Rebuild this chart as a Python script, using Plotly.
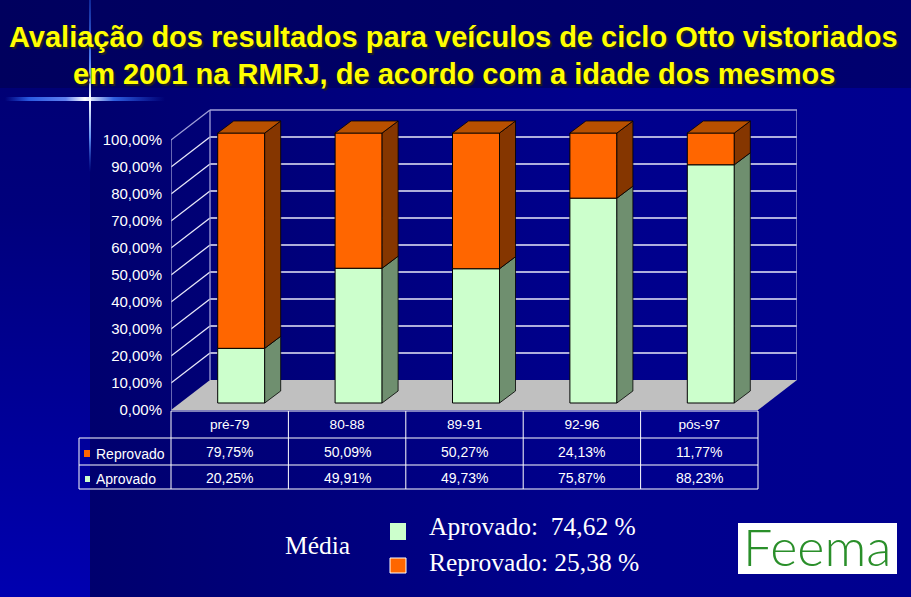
import base64
import plotly.graph_objects as go

W, H = 911, 597
categories = ["pré-79", "80-88", "89-91", "92-96", "pós-97"]
aprovado = [20.25, 49.91, 49.73, 75.87, 88.23]
reprovado = [79.75, 50.09, 50.27, 24.13, 11.77]
y_ticks = [0, 10, 20, 30, 40, 50, 60, 70, 80, 90, 100]
media_aprovado = "74,62"
media_reprovado = "25,38"
C_GREEN, C_ORANGE = "#ccffcc", "#ff6600"

# axis geometry in pixels
PX_L, PX_R = 171, 797
PY_B, PY_T = 410, 108
ux = (758 - 171) / 5          # px per category
uy = 2.70                     # px per percent
x_lo = -0.5
x_hi = x_lo + (PX_R - PX_L) / ux
y_hi = (PY_B - PY_T) / uy
DX, DY = 39 / ux, 30 / uy     # total chart depth in data units
BW = 47 / ux                  # bar width
BOX, BOY = 11.5 / ux, 7 / uy  # bar front offset from chart front
BDX, BDY = 16 / ux, 12 / uy   # bar depth


def px(x):
    return x / W


def py(y):
    return 1 - y / H


# slide background as a single gradient picture
BG_SVG = f"""<svg xmlns="http://www.w3.org/2000/svg" width="{W}" height="{H}" viewBox="0 0 {W} {H}">
<defs>
<linearGradient id="m"><stop offset="0" stop-color="#00006e"/><stop offset="0.6" stop-color="#00008c"/><stop offset="1" stop-color="#000090"/></linearGradient>
<linearGradient id="t"><stop offset="0" stop-color="#00005e"/><stop offset="1" stop-color="#000070"/></linearGradient>
<linearGradient id="l" x1="0" y1="0" x2="0" y2="1"><stop offset="0" stop-color="#000070"/><stop offset="0.35" stop-color="#00007c"/><stop offset="1" stop-color="#0000b0"/></linearGradient>
<linearGradient id="h"><stop offset="0" stop-color="#2050e0" stop-opacity="0"/><stop offset="0.15" stop-color="#2a5ae0"/>
<stop offset="0.38" stop-color="#6080f0"/><stop offset="0.5" stop-color="#ffffff"/><stop offset="0.68" stop-color="#3060e0"/><stop offset="1" stop-color="#2050e0" stop-opacity="0"/></linearGradient>
<linearGradient id="v" x1="0" y1="0" x2="0" y2="1"><stop offset="0" stop-color="#2050d0" stop-opacity="0.5"/><stop offset="0.35" stop-color="#5080f0"/>
<stop offset="0.58" stop-color="#ffffff"/><stop offset="0.8" stop-color="#6090f0"/><stop offset="1" stop-color="#2050d0" stop-opacity="0"/></linearGradient>
</defs>
<rect x="90" width="{W - 90}" height="{H}" fill="url(#m)"/>
<rect width="90" height="{H}" fill="url(#l)"/>
<rect width="{W}" height="88" fill="url(#t)"/>
<rect x="5" y="97" width="160" height="4" fill="url(#h)"/>
<rect x="89" y="0" width="2" height="172" fill="url(#v)"/>
</svg>"""
BG_URI = "data:image/svg+xml;base64," + base64.b64encode(BG_SVG.encode()).decode()

fig = go.Figure()
shapes = []
anns = []


def paper_rect(x0, y0, x1, y1, fill, line=None, lw=0, layer="above"):
    shapes.append(dict(type="rect", xref="paper", yref="paper", x0=px(x0), x1=px(x1),
                       y0=py(y1), y1=py(y0), fillcolor=fill, layer=layer,
                       line=dict(color=line or fill, width=lw)))


def data_line(x0, y0, x1, y1, color, w=1.3):
    shapes.append(dict(type="line", xref="x", yref="y", x0=x0, y0=y0, x1=x1, y1=y1,
                       layer="below", line=dict(color=color, width=w)))


# floor
shapes.append(dict(type="path", xref="x", yref="y", layer="below",
                   path=f"M{x_lo},0 L{x_lo + 5},0 L{x_hi},{DY} L{x_lo + DX},{DY} Z",
                   fillcolor="#c0c0c0", line=dict(width=0)))

# walls and gridlines
for v in y_ticks[1:-1]:
    data_line(x_lo, v, x_lo + DX, v + DY, "#e8e8f8")
    data_line(x_lo + DX, v + DY, x_hi, v + DY, "#e8e8f8")
EDGE = "#a0a0d8"
data_line(x_lo, 0, x_lo, 100, EDGE)
data_line(x_lo + DX, DY, x_lo + DX, 100 + DY, EDGE)
data_line(x_hi, DY, x_hi, 100 + DY, EDGE)
data_line(x_lo, 100, x_lo + DX, 100 + DY, EDGE)
data_line(x_lo + DX, 100 + DY, x_hi, 100 + DY, EDGE)

x_pos = list(range(len(categories)))
bar_x = [i + BOX for i in x_pos]

# front faces
fig.add_bar(x=bar_x, y=aprovado, base=[BOY] * 5, width=BW, name="Aprovado",
            marker=dict(color=C_GREEN, line=dict(color="#000000", width=1)))
fig.add_bar(x=bar_x, y=reprovado, base=[BOY + a for a in aprovado], width=BW, name="Reprovado",
            marker=dict(color=C_ORANGE, line=dict(color="#000000", width=1)))


def face(xs, ys, fill, name):
    fig.add_scatter(x=xs, y=ys, mode="lines", fill="toself", fillcolor=fill,
                    line=dict(color="#000000", width=0.8), showlegend=False, name=name, hoverinfo="skip")


# side and top faces
for i, (a, r) in enumerate(zip(aprovado, reprovado)):
    xr = bar_x[i] + BW / 2
    xl = bar_x[i] - BW / 2
    y0, y1, y2 = BOY, BOY + a, BOY + a + r
    face([xr, xr + BDX, xr + BDX, xr, xr], [y0, y0 + BDY, y1 + BDY, y1, y0], "#6f8f6f", "Aprovado lado")
    face([xr, xr + BDX, xr + BDX, xr, xr], [y1, y1 + BDY, y2 + BDY, y2, y1], "#853600", "Reprovado lado")
    face([xl, xr, xr + BDX, xl + BDX, xl], [y2, y2, y2 + BDY, y2 + BDY, y2], "#b85000", "Reprovado topo")


def text(x, y, s, size=14, color="#ffffff", family="Liberation Sans", anchor="center", xref="paper", **kw):
    anns.append(dict(x=px(x) if xref == "paper" else x, y=py(y), xref=xref, yref="paper", text=s, showarrow=False,
                     xanchor=anchor, yanchor="middle",
                     font=dict(size=size, color=color, family=family, **kw)))


# data table
TX0, TX1, TX2 = 79, 171, 758
TY0, TY1, TY2, TY3 = 411, 438, 465, 489
LC = "#ffffff"
tbl = [(TX1, TY0, TX2, TY0), (TX0, TY1, TX2, TY1), (TX0, TY2, TX2, TY2), (TX0, TY3, TX2, TY3), (TX0, TY1, TX0, TY3)]
for i in range(6):
    xp = TX1 + i * ux
    tbl.append((xp, TY0, xp, TY3))
for a, b, c, d in tbl:
    shapes.append(dict(type="line", xref="paper", yref="paper", x0=px(a), x1=px(c), y0=py(b), y1=py(d),
                       line=dict(color=LC, width=1), layer="above"))

for i in x_pos:
    text(i, 452, f"{reprovado[i]:.2f}%".replace(".", ","), xref="x")
    text(i, 478, f"{aprovado[i]:.2f}%".replace(".", ","), xref="x")
text(94, 454, "Reprovado", anchor="left")
text(94, 479, "Aprovado", anchor="left")
paper_rect(84, 450, 90, 457, C_ORANGE)
paper_rect(85, 476, 90, 482, C_GREEN)

# title
SH = "2px 2px 1px #202020"
text(453, 37, "Avaliação dos resultados para veículos de ciclo Otto vistoriados", size=29, color="#ffff00",
     shadow=SH, weight="bold")
text(454, 74, "em 2001 na RMRJ, de acordo com a idade dos mesmos", size=29, color="#ffff00",
     shadow=SH, weight="bold")

# average block
SERIF = "Liberation Serif"
text(283, 545, "Média", size=25.5, family=SERIF, anchor="left")
text(427, 526, f"Aprovado:  {media_aprovado} %", size=25.5, family=SERIF, anchor="left")
text(427, 562, f"Reprovado: {media_reprovado} %", size=25.5, family=SERIF, anchor="left")
paper_rect(390, 523, 406, 540, C_GREEN)
paper_rect(390, 558, 406, 573, C_ORANGE, line="#ffffff", lw=1)

# logo
paper_rect(738, 523, 897, 574, "#ffffff")
text(817, 546, "Feema", size=52, color="#2a8f2a", family="Lato", weight=300)

fig.update_layout(
    width=W, height=H, autosize=False,
    margin=dict(l=0, r=0, t=0, b=0, autoexpand=False),
    paper_bgcolor="#000090", plot_bgcolor="rgba(0,0,0,0)",
    barmode="overlay", showlegend=False, shapes=shapes, annotations=anns,
    images=[dict(source=BG_URI, xref="paper", yref="paper", x=0, y=1, sizex=1, sizey=1,
                 sizing="stretch", xanchor="left", yanchor="top", layer="below")],
    xaxis=dict(domain=[px(PX_L), px(PX_R)], range=[x_lo, x_hi], tickvals=x_pos, ticktext=categories,
               automargin=False, showgrid=False, zeroline=False, showline=False, ticks="outside", ticklen=2,
               tickcolor="rgba(0,0,0,0)", tickfont=dict(size=13.7, color="#ffffff", family="Liberation Sans")),
    yaxis=dict(domain=[py(PY_B), py(PY_T)], range=[0, y_hi], tickvals=y_ticks,
               ticktext=[f"{v},00%" for v in y_ticks],
               automargin=False, showgrid=False, zeroline=False, showline=False, ticks="outside", ticklen=5,
               tickcolor="rgba(0,0,0,0)", tickfont=dict(size=15, color="#ffffff", family="Liberation Sans")),
)
fig.write_html("out.html", config={"displayModeBar": False},
               post_script="document.body.style.margin='0';document.documentElement.style.overflow='hidden';")
